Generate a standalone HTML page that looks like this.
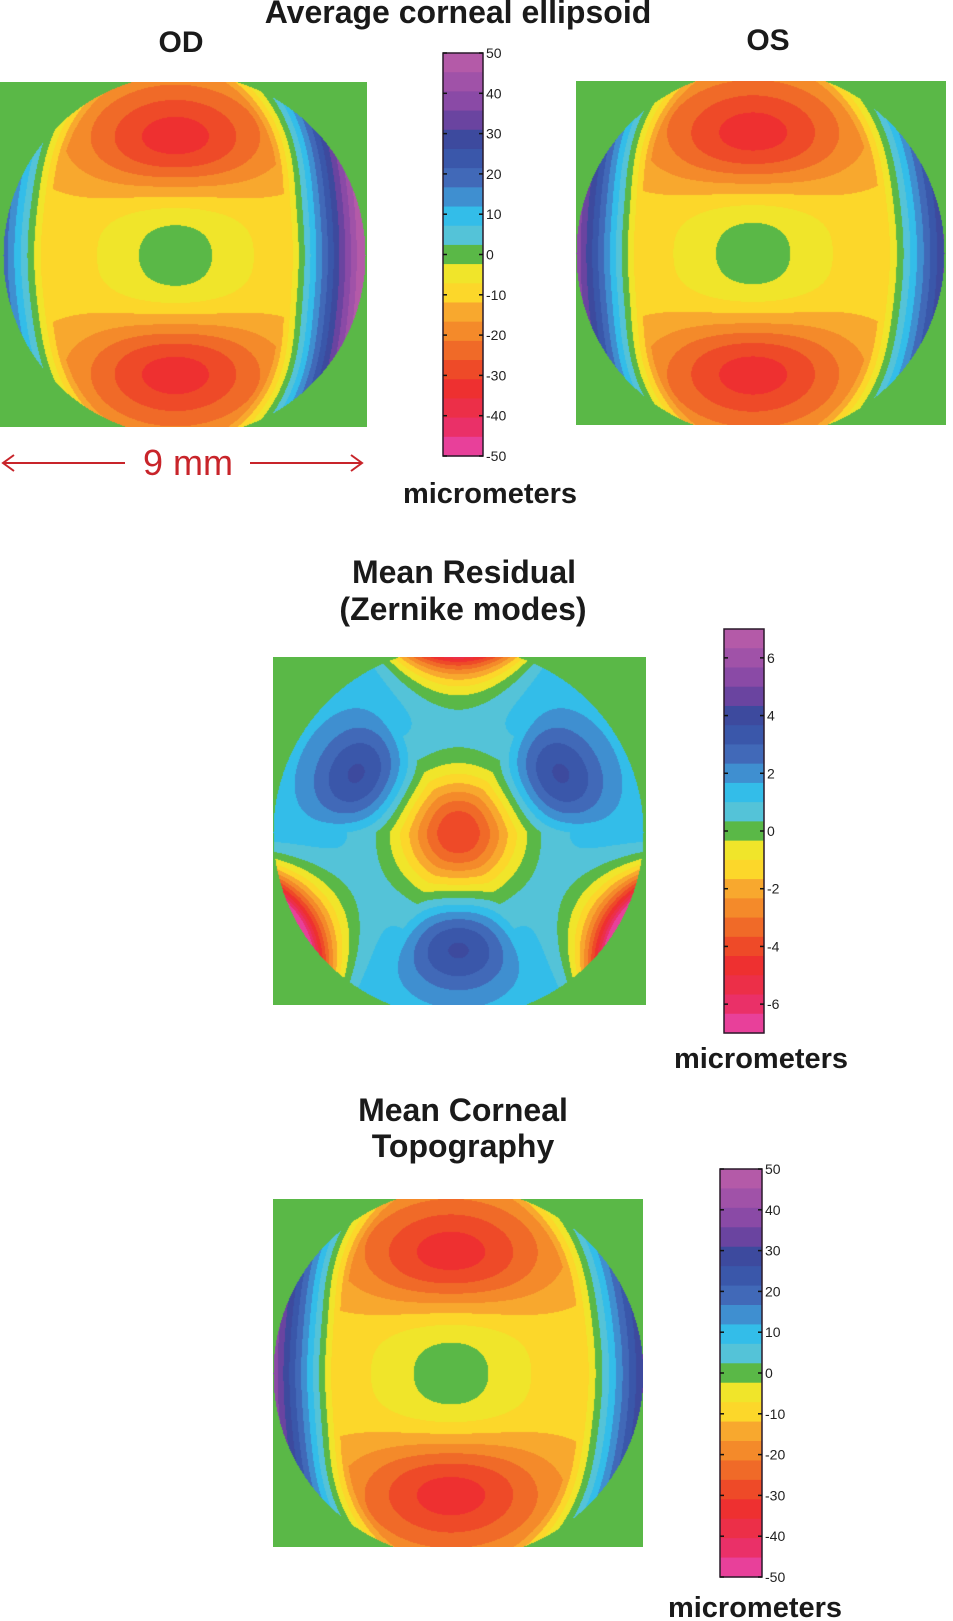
<!DOCTYPE html>
<html><head><meta charset="utf-8">
<style>
html,body{margin:0;padding:0;background:#fff;}
#root{position:relative;width:953px;height:1621px;overflow:hidden;background:#fff;}
canvas{position:absolute;display:block;}
svg{position:absolute;left:0;top:0;}
text{font-family:"Liberation Sans",Arial,sans-serif;}
</style></head>
<body>
<div id="root">
<canvas id="od" width="367" height="345" style="left:0;top:82px"></canvas>
<canvas id="os" width="370" height="344" style="left:576px;top:81px"></canvas>
<canvas id="res" width="373" height="348" style="left:273px;top:657px"></canvas>
<canvas id="topo" width="370" height="348" style="left:273px;top:1199px"></canvas>
<svg id="ov" width="953" height="1621">
<text x="458" y="23" text-anchor="middle" font-size="32" font-weight="bold" fill="#1a1a1a">Average corneal ellipsoid</text>
<text x="181" y="52" text-anchor="middle" font-size="30" font-weight="bold" fill="#1a1a1a">OD</text>
<text x="768" y="50" text-anchor="middle" font-size="30" font-weight="bold" fill="#1a1a1a">OS</text>
<g stroke="#c8242a" stroke-width="2" fill="none">
<line x1="3" y1="463" x2="125" y2="463"/><polyline points="14,455 3,463 14,471"/>
<line x1="250" y1="463" x2="362" y2="463"/><polyline points="351,455 362,463 351,471"/>
</g>
<text x="188" y="475" text-anchor="middle" font-size="36" fill="#c8242a">9 mm</text>
<text x="490" y="503" text-anchor="middle" font-size="29" font-weight="bold" fill="#1a1a1a">micrometers</text>
<text x="464" y="583" text-anchor="middle" font-size="32" font-weight="bold" fill="#1a1a1a">Mean Residual</text>
<text x="463" y="620" text-anchor="middle" font-size="32" font-weight="bold" fill="#1a1a1a">(Zernike modes)</text>
<text x="761" y="1068" text-anchor="middle" font-size="29" font-weight="bold" fill="#1a1a1a">micrometers</text>
<text x="463" y="1121" text-anchor="middle" font-size="32" font-weight="bold" fill="#1a1a1a">Mean Corneal</text>
<text x="463" y="1157" text-anchor="middle" font-size="32" font-weight="bold" fill="#1a1a1a">Topography</text>
<text x="755" y="1617" text-anchor="middle" font-size="29" font-weight="bold" fill="#1a1a1a">micrometers</text>
<g id="bars"></g>
</svg>
</div>
<script>
// palette: colour of each contour band, from highest (top) to lowest
const palette = ["#b45aa8","#a052a8","#8a4aa6","#6a44a0","#3d4a9e","#3a57aa","#4169b8","#3f8fd0","#33bde9","#54c3d8","#5ab847","#f0e52a","#fcd72a","#f8a82e","#f48a2a","#f06a28","#ee4a28","#ee3030","#ec2f48","#ea3068","#e8409a"];
const ticks1 = [50,40,30,20,10,0,-10,-20,-30,-40,-50];
const ticks2 = [6,4,2,0,-2,-4,-6];
const ticks3 = [50,40,30,20,10,0,-10,-20,-30,-40,-50];
const range1 = [-50,50];
const range2 = [-7,7];
const range3 = [-50,50];
const bg = "#5ab847";

function hex(c){return [parseInt(c.substr(1,2),16),parseInt(c.substr(3,2),16),parseInt(c.substr(5,2),16)];}
const rgb = palette.map(hex);
const n = palette.length;
function bandIndex(v, rng){
  let t=(v-rng[0])/(rng[1]-rng[0]);
  let i=Math.floor(t*n); if(i<0)i=0; if(i>n-1)i=n-1;
  return n-1-i;
}
function corneal(u,v,shift){
  const xs=u+shift;
  const rho=Math.hypot(xs,v);
  const a = xs>0 ? 0.70 : 0.80;
  const e=Math.hypot(xs/a, v/1.15);
  const C=-10*(1-Math.exp(-rho*rho/0.15));
  const P=105*Math.max(0,e-0.905);
  const q=v*v/0.42;
  const fv=-24*q*q*Math.exp(2*(1-q))*Math.exp(-xs*xs/0.3);
  return C+P+fv;
}
function resid(u,v){
  const r=Math.hypot(u,v), th=Math.atan2(v,u), s=Math.sin(3*th);
  const g=-4.3+5.5*(1-Math.exp(-(r/0.33)*(r/0.33)));
  const h = s<0 ? -9*s*s*Math.pow(r,6) : 2.7*s*Math.exp(-Math.pow((r-0.62)/0.25,2));
  return g+h;
}
function draw(id,cx,cy,R,fn,rng){
  const cv=document.getElementById(id), ctx=cv.getContext('2d');
  const W=cv.width,H=cv.height, img=ctx.createImageData(W,H), d=img.data, g=hex(bg);
  for(let y=0;y<H;y++)for(let x=0;x<W;x++){
    const u=(x-cx)/R, v=(cy-y)/R, k=(y*W+x)*4;
    let c=g;
    if(u*u+v*v<=1){ c=rgb[bandIndex(fn(u,v),rng)]; }
    d[k]=c[0];d[k+1]=c[1];d[k+2]=c[2];d[k+3]=255;
  }
  ctx.putImageData(img,0,0);
}
draw('od',184,173,181,(u,v)=>corneal(u,v,0.05),range1);
draw('os',184,172,184,(u,v)=>corneal(-u,v,-0.04),range1);
draw('res',185,175,185,resid,range2);
draw('topo',185,174,185,(u,v)=>corneal(-u,v,-0.04),range3);

const NS="http://www.w3.org/2000/svg";
const bars=document.getElementById('bars');
function colorbar(name,x,y,w,h,ticks,rng){
  const g=document.createElementNS(NS,'g');
  
  
  const bh=h/n;
  palette.forEach((c,i)=>{
    const r=document.createElementNS(NS,'rect');
    r.setAttribute('x',x);r.setAttribute('y',y+i*bh);r.setAttribute('width',w);r.setAttribute('height',bh+0.6);r.setAttribute('fill',c);
    
    
    g.appendChild(r);
  });
  const fr=document.createElementNS(NS,'rect');
  fr.setAttribute('x',x);fr.setAttribute('y',y);fr.setAttribute('width',w);fr.setAttribute('height',h);
  fr.setAttribute('fill','none');fr.setAttribute('stroke','#2a1a2a');fr.setAttribute('stroke-width','1.5');
  
  
  g.appendChild(fr);
  ticks.forEach(t=>{
    const ty=y+h*(rng[1]-t)/(rng[1]-rng[0]);
    [[x,x+4],[x+w-4,x+w]].forEach(p=>{
      const l=document.createElementNS(NS,'line');
      l.setAttribute('x1',p[0]);l.setAttribute('x2',p[1]);l.setAttribute('y1',ty);l.setAttribute('y2',ty);
      l.setAttribute('stroke','#111');l.setAttribute('stroke-width','1.5');
      
      
      g.appendChild(l);
    });
    const tx=document.createElementNS(NS,'text');
    tx.setAttribute('x',x+w+3);tx.setAttribute('y',ty+5);tx.setAttribute('font-size','14');tx.setAttribute('fill','#222');
    tx.textContent=String(t);
    
    
    g.appendChild(tx);
  });
  bars.appendChild(g);
}
colorbar('colorbar-ellipsoid',443,53,40,403,ticks1,range1);
colorbar('colorbar-residual',724,629,40,404,ticks2,range2);
colorbar('colorbar-topography',720,1169,42,408,ticks3,range3);
</script>
</body></html>
